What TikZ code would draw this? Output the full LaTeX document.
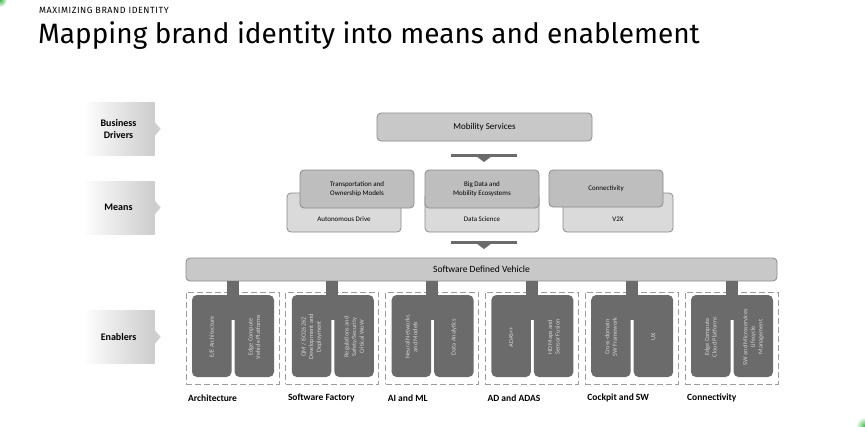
\documentclass[tikz,border=0pt]{standalone}
\usepackage{fontspec}
\setmainfont{Carlito}
\newfontfamily\titlefont{Fira Sans}
\newfontfamily\kickerfont[LetterSpace=6]{Fira Sans}
\definecolor{boxA}{HTML}{BEBEBE}
\definecolor{boxB}{HTML}{DADADA}
\definecolor{boxM}{HTML}{C8C8C8}
\definecolor{edgec}{HTML}{8A8A8A}
\definecolor{darkc}{HTML}{6B6B6B}
\definecolor{lighttxt}{HTML}{D4D4D4}
\definecolor{dashc}{HTML}{9C9C9C}
\definecolor{brandgreen}{HTML}{3DB54A}
\tikzset{
  rowlbl/.style={shade, left color=white, right color=gray!40, minimum width=72pt, minimum height=53pt, inner sep=0pt, align=center, font=\fontsize{10}{12}\selectfont\bfseries},
  ptr/.style={fill=gray!38},
  mbox/.style={draw=edgec, line width=0.8pt, rounded corners=4pt, inner sep=0pt},
  frontbox/.style={mbox, fill=boxA, minimum width=114pt, minimum height=38pt, align=center, font=\fontsize{7}{9}\selectfont},
  backbox/.style={mbox, fill=boxB, minimum height=39pt},
  backtxt/.style={font=\fontsize{7}{9}\selectfont, inner sep=0pt},
  dashbox/.style={draw=dashc, dash pattern=on 6pt off 3pt, line width=0.8pt, minimum width=93pt, minimum height=92pt, inner sep=0pt},
  halfbox/.style={fill=darkc, rounded corners=5pt},
  entxt/.style={rotate=90, align=center, text=lighttxt, font=\fontsize{6.3}{7.6}\selectfont, inner sep=0pt},
  grplbl/.style={anchor=west, font=\fontsize{9.5}{11}\selectfont\bfseries, inner sep=0pt},
  stem/.style={draw=darkc, line width=12pt},
  marker/.style={fill=darkc}
}
\newcommand\enablergroup[4]{%
  \pgfmathsetmacro\L{186+99.8*#1}
  \node[dashbox] (gb#1) at (\L+46.5,338) {};
  \fill[halfbox] (\L+6,295) rectangle (\L+45.5,377);
  \fill[halfbox] (\L+48.5,295) rectangle (\L+88,377);
  \fill[darkc] (\L+40,295) rectangle (\L+54,320);
  \draw[stem] (gb#1.north |- sdv.south) -- ([yshift=-4pt]gb#1.north);
  \node[entxt] (ea#1) at (\L+25.75,337) {#3};
  \node[entxt] (eb#1) at (\L+68.25,337) {#4};
  \node[grplbl] (gl#1) at (\L+2,398) {#2};
}
\begin{document}
\begin{tikzpicture}[x=1pt,y=-1pt]
\useasboundingbox (0,0) rectangle (865,426);
\fill[white] (0,0) rectangle (865,426);
% green corner glows
\shade[inner color=brandgreen, outer color=white] (0,0) circle (7pt);
\shade[inner color=brandgreen, outer color=white] (865,426) circle (9pt);
% titles
\node[anchor=west, inner sep=0pt, font=\kickerfont\fontsize{9}{10}\selectfont] (kicker) at (39,10) {MAXIMIZING BRAND IDENTITY};
\node[anchor=west, inner sep=0pt, font=\titlefont\fontsize{28}{31}\selectfont] (title) at (38,36) {Mapping brand identity into means and enablement};
% row labels
\node[rowlbl] (rl1) at (118.5,129) {Business\\Drivers};
\fill[ptr] (rl1.east) ++(0,-7) -- ++(6,7) -- ++(-6,7) -- cycle;
\node[rowlbl] (rl2) at (118.5,207.5) {Means};
\fill[ptr] (rl2.east) ++(0,-7) -- ++(6,7) -- ++(-6,7) -- cycle;
\node[rowlbl] (rl3) at (118.5,337) {Enablers};
\fill[ptr] (rl3.east) ++(0,-7) -- ++(6,7) -- ++(-6,7) -- cycle;
% business driver
\node[mbox, fill=boxM, minimum width=215pt, minimum height=28pt, font=\fontsize{9}{11}\selectfont] (ms) at (484.5,127) {Mobility Services};
% marker 1
\fill[marker] (451,153.5) rectangle (517,156.5);
\fill[marker] (476,156) -- (492,156) -- (484,162) -- cycle;
% means
\node[backbox, minimum width=114pt] (b1) at (344,212.5) {};
\node[backtxt] (bt1) at (344,219.5) {Autonomous Drive};
\node[frontbox] (f1) at (357,189) {Transportation and\\Ownership Models};
\node[backbox, minimum width=114pt] (b2) at (482,212.5) {};
\node[backtxt] (bt2) at (482,219.5) {Data Science};
\node[frontbox] (f2) at (482,189) {Big Data and\\Mobility Ecosystems};
\node[backbox, minimum width=110pt] (b3) at (618,212.5) {};
\node[backtxt] (bt3) at (618,219.5) {V2X};
\node[frontbox, minimum height=37pt] (f3) at (606,188.5) {Connectivity};
% marker 2
\fill[marker] (451,240.5) rectangle (517,243.5);
\fill[marker] (476,243) -- (492,243) -- (484,249) -- cycle;
% software defined vehicle
\node[mbox, fill=boxM, minimum width=591pt, minimum height=23pt, font=\fontsize{9.5}{11}\selectfont] (sdv) at (481.5,269.5) {Software Defined Vehicle};
% enablers
\enablergroup{0}{Architecture}{E/E Architecture}{Edge Compute\\Vehicle Platforms}
\enablergroup{1}{Software Factory}{QM / ISO26262\\Development and\\Deployment}{Regulations and\\Safety/Security\\Critical WoW}
\enablergroup{2}{AI and ML}{Neural Networks\\and Models}{Data Analytics}
\enablergroup{3}{AD and ADAS}{ADAS++}{HD Maps and\\Sensor Fusion}
\enablergroup{4}{Cockpit and SW}{Cross-domain\\SW Framework}{UX}
\enablergroup{5}{Connectivity}{Edge Compute\\Cloud Platforms}{SW and Microservices\\Lifecycle\\Management}
\end{tikzpicture}
\end{document}
